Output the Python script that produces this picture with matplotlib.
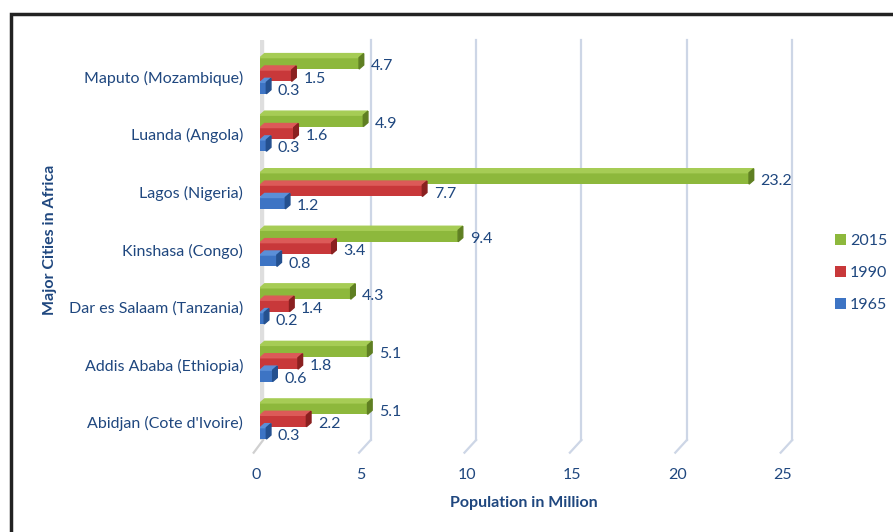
import matplotlib
matplotlib.use('Agg')
import matplotlib.pyplot as plt
import matplotlib.transforms as mtrans
from matplotlib.patches import Rectangle, Polygon
import numpy as np

cities = ["Abidjan (Cote d'Ivoire)", "Addis Ababa (Ethiopia)", "Dar es Salaam (Tanzania)",
          "Kinshasa (Congo)", "Lagos (Nigeria)", "Luanda (Angola)", "Maputo (Mozambique)"]
pop_1965 = [0.3, 0.6, 0.2, 0.8, 1.2, 0.3, 0.3]
pop_1990 = [2.2, 1.8, 1.4, 3.4, 7.7, 1.6, 1.5]
pop_2015 = [5.1, 5.1, 4.3, 9.4, 23.2, 4.9, 4.7]
x_ticks = [0, 5, 10, 15, 20, 25]

txt = '#1f477f'
plt.rcParams['font.family'] = ['Lato', 'DejaVu Sans']

fig = plt.figure(figsize=(8.93, 5.32), dpi=100)
ax = fig.add_axes([260 / 893, 1 - 440 / 532, (787 - 260) / 893, 400 / 532])

y = np.arange(len(cities))
h = 0.215
dx, dy = 0.22, 0.07   # small depth for the 3d look
y0, y1 = -0.33, 6.62

series = [
    (pop_2015, '2015', h, '#8db83c', '#a6cc55', '#5f7f22'),
    (pop_1990, '1990', 0.0, '#c8383a', '#dc5a58', '#8a2020'),
    (pop_1965, '1965', -h, '#3d74c4', '#5b8fd8', '#24508f'),
]

# back wall and gridlines
ax.add_patch(Rectangle((-0.15, y0), 0.3, y1 - y0, color='#dedede', zorder=0))
for xt in x_ticks[1:]:
    ax.plot([xt + 0.25, xt + 0.25], [y0, y1], color='#cdd6e6', lw=1.6, zorder=0, clip_on=False)
    ax.plot([xt + 0.25, xt - 0.3], [y0, y0 - 0.22], color='#cdd6e6', lw=1.6, zorder=0, clip_on=False)
ax.plot([-0.3, 0.15], [y0 - 0.22, y0], color='#d0d0d0', lw=1.6, zorder=0, clip_on=False)

for vals, lab, off, c, ctop, cside in series:
    yy = y + off
    ax.barh(yy, vals, height=h * 0.92, color=c, label=lab, zorder=3)
    for yi, v in zip(yy, vals):
        top = yi + h * 0.46
        bot = yi - h * 0.46
        ax.add_patch(Polygon([(0, top), (v, top), (v + dx, top + dy), (dx, top + dy)],
                             closed=True, color=ctop, zorder=3))
        ax.add_patch(Polygon([(v, bot), (v + dx, bot + dy), (v + dx, top + dy), (v, top)],
                             closed=True, color=cside, zorder=3))
        ax.text(v + 0.55, yi - 0.05, f'{v:g}', va='center', ha='left', fontsize=11.5, color=txt, zorder=4)

ax.set_xlim(0, 25)
ax.set_ylim(y0, y1)
ax.set_xticks(x_ticks)
ax.set_xticklabels([str(t) for t in x_ticks])
ax.set_yticks(y - 0.02)
ax.set_yticklabels(cities)
ax.tick_params(axis='both', length=0, labelsize=11.5, labelcolor=txt)
ax.tick_params(axis='x', pad=20)
ax.tick_params(axis='y', pad=12)
for s in ax.spines.values():
    s.set_visible(False)
ax.set_facecolor('none')
shift = mtrans.ScaledTranslation(-3 / 72, 0, fig.dpi_scale_trans)
for t in ax.get_xticklabels():
    t.set_transform(t.get_transform() + shift)

ax.set_xlabel('Population in Million', fontsize=11.5, fontweight='bold', color=txt, labelpad=10)
ax.set_ylabel('Major Cities in Africa', fontsize=11.5, fontweight='bold', color=txt, labelpad=9)

handles, labels = ax.get_legend_handles_labels()
fig.legend(handles, labels, loc='center left', bbox_to_anchor=(835 / 893, 1 - 273 / 532),
           frameon=False, fontsize=11.5, labelcolor=txt, handlelength=0.7, handleheight=0.7,
           handletextpad=0.25, labelspacing=1.1, borderpad=0, borderaxespad=0)

fig.add_artist(Rectangle((10.5 / 893, -0.1), 1.2, (1 - 13.5 / 532) + 0.1, transform=fig.transFigure,
                         fill=False, edgecolor='#222222', lw=2.5))

fig.savefig('out.png', dpi=100)
